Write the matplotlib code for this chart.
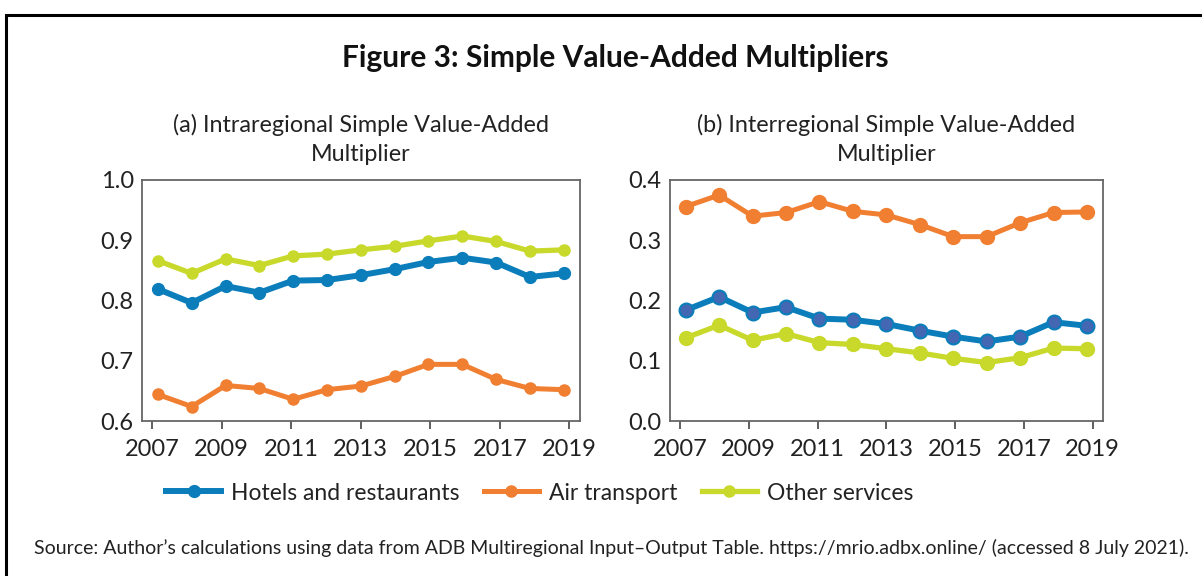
import matplotlib.pyplot as plt
from matplotlib.patches import Rectangle
import numpy as np

plt.rcParams['font.family'] = ['Lato', 'DejaVu Sans']

# Data
years = list(range(2007, 2020))
tick_labels = ['2007', '2009', '2011', '2013', '2015', '2017', '2019']

intra_hotels = [0.819, 0.796, 0.824, 0.813, 0.833, 0.834, 0.842, 0.852, 0.864, 0.871, 0.863, 0.839, 0.845]
intra_air = [0.644, 0.624, 0.659, 0.654, 0.636, 0.652, 0.658, 0.674, 0.694, 0.694, 0.669, 0.654, 0.652]
intra_other = [0.866, 0.845, 0.869, 0.858, 0.874, 0.877, 0.884, 0.890, 0.899, 0.907, 0.898, 0.882, 0.884]

inter_hotels = [0.184, 0.206, 0.180, 0.189, 0.170, 0.168, 0.161, 0.150, 0.140, 0.132, 0.140, 0.164, 0.158]
inter_air = [0.356, 0.375, 0.340, 0.346, 0.364, 0.348, 0.342, 0.326, 0.306, 0.306, 0.329, 0.346, 0.347]
inter_other = [0.138, 0.159, 0.134, 0.145, 0.130, 0.127, 0.120, 0.113, 0.104, 0.097, 0.105, 0.121, 0.120]

blue = '#0a7dba'
blue_face = '#4467b3'
orange = '#f07f32'
green = '#c8d92b'

fig = plt.figure(figsize=(12.02, 5.76), dpi=100)

# frame around the figure
fig.patches.append(Rectangle((6 / 1202, -0.1), 1.2, (576 - 15) / 576 + 0.1,
                             transform=fig.transFigure, fill=False,
                             edgecolor='black', linewidth=2.2))

fig.text(0.512, 1 - 58 / 576, 'Figure 3: Simple Value-Added Multipliers',
         ha='center', va='center', fontsize=21.5, fontweight='bold', color='#111111')


def panel(rect, hotels, air, other, ylim, yticks, title):
    ax = fig.add_axes(rect)
    x = np.arange(len(years))
    ax.plot(x, hotels, color=blue, lw=4.3, marker='o', ms=10,
            mfc=blue_face, mec=blue, mew=1.5, label='Hotels and restaurants', zorder=3)
    ax.plot(x, air, color=orange, lw=3.6, marker='o', ms=10,
            mfc=orange, mec=orange, label='Air transport', zorder=2)
    ax.plot(x, other, color=green, lw=3.8, marker='o', ms=10,
            mfc=green, mec=green, label='Other services', zorder=2)
    ax.set_xlim(-0.47, 12.48)
    ax.set_ylim(*ylim)
    ax.set_yticks(yticks)
    ax.set_yticklabels(['%.1f' % v for v in yticks])
    ax.set_xticks(-0.17 + 2.056 * np.arange(len(tick_labels)))
    ax.set_xticklabels(tick_labels)
    for s in ax.spines.values():
        s.set_color('#666666')
        s.set_linewidth(1.3)
    ax.tick_params(axis='x', direction='out', length=6, width=1.2, color='#444444',
                   labelsize=17, labelcolor='#222222', pad=7)
    ax.tick_params(axis='y', length=0, labelsize=17, labelcolor='#222222', pad=6)
    ax.set_title(title, fontsize=16.8, color='#222222', pad=14, linespacing=1.45)
    return ax


ax1 = panel([142 / 1202, 1 - 421 / 576, 438 / 1202, 241 / 576],
            intra_hotels, intra_air, intra_other, (0.6, 1.0),
            [0.6, 0.7, 0.8, 0.9, 1.0],
            '(a) Intraregional Simple Value-Added\nMultiplier')
ax2 = panel([670 / 1202, 1 - 421 / 576, 433 / 1202, 241 / 576],
            inter_hotels, inter_air, inter_other, (0.0, 0.4),
            [0.0, 0.1, 0.2, 0.3, 0.4],
            '(b) Interregional Simple Value-Added\nMultiplier')

handles, labels = ax1.get_legend_handles_labels()
for h in handles:
    h.set_markerfacecolor(h.get_color())
    h.set_markeredgecolor(h.get_color())
    h.set_markersize(8)
fig.legend(handles, labels, loc='center', bbox_to_anchor=(0.449, 1 - 493 / 576),
           ncol=3, frameon=False, fontsize=16.5, handlelength=2.4, columnspacing=1.05,
           handletextpad=0.45, labelcolor='#222222')

fig.text(0.509, 1 - 548 / 576,
         'Source: Author\u2019s calculations using data from ADB Multiregional Input\u2013Output Table. '
         'https://mrio.adbx.online/ (accessed 8 July 2021).',
         ha='center', va='center', fontsize=14, color='#222222')

fig.savefig('out.png', dpi=100)
